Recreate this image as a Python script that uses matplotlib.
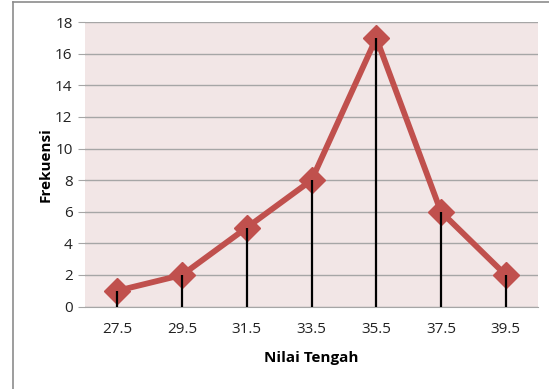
import matplotlib.pyplot as plt
from matplotlib.lines import Line2D

nilai_tengah = ['27.5', '29.5', '31.5', '33.5', '35.5', '37.5', '39.5']
frekuensi = [1, 2, 5, 8, 17, 6, 2]
y_ticks = [0, 2, 4, 6, 8, 10, 12, 14, 16, 18]

plt.rcParams['font.family'] = ['Liberation Sans Narrow', 'Open Sans', 'DejaVu Sans']

fig = plt.figure(figsize=(5.49, 3.89), dpi=100)
ax = fig.add_axes([0.155, 0.212, 0.825, 0.731])
ax.set_facecolor('#F2E6E6')

# frame of the chart area (only top and left edge visible in the crop)
fig.add_artist(Line2D([13/549, 1], [1 - 1.5/389] * 2, color='#8C8C8C', lw=1.2))
fig.add_artist(Line2D([13/549] * 2, [0, 1 - 1.5/389], color='#8C8C8C', lw=1.2))

x = range(len(nilai_tengah))
ax.plot(x, frekuensi, color='#C0504D', lw=4.2, marker='D', markersize=13,
        markerfacecolor='#C0504D', markeredgecolor='#C0504D', zorder=3)
ax.vlines(x, 0, frekuensi, color='black', lw=1.6, zorder=4)

ax.set_xlim(-0.5, len(nilai_tengah) - 0.5)
ax.set_ylim(0, 18)
ax.set_yticks(y_ticks)
ax.set_xticks(list(x))
ax.set_xticklabels(nilai_tengah)
ax.yaxis.grid(True, color='#A6A6A6', lw=1)
ax.set_axisbelow(True)
for s in ['top', 'right', 'left']:
    ax.spines[s].set_visible(False)
ax.spines['bottom'].set_color('#A6A6A6')
ax.tick_params(axis='y', length=5, color='#A6A6A6', labelsize=11, pad=4, labelcolor='#222222')
ax.tick_params(axis='x', length=0, labelsize=11, pad=11, labelcolor='#222222')

ax.set_xlabel('Nilai Tengah', fontsize=11, fontweight='bold', labelpad=10)
ax.set_ylabel('Frekuensi', fontsize=11, fontweight='bold', labelpad=2)

fig.savefig('out.png', dpi=100)
